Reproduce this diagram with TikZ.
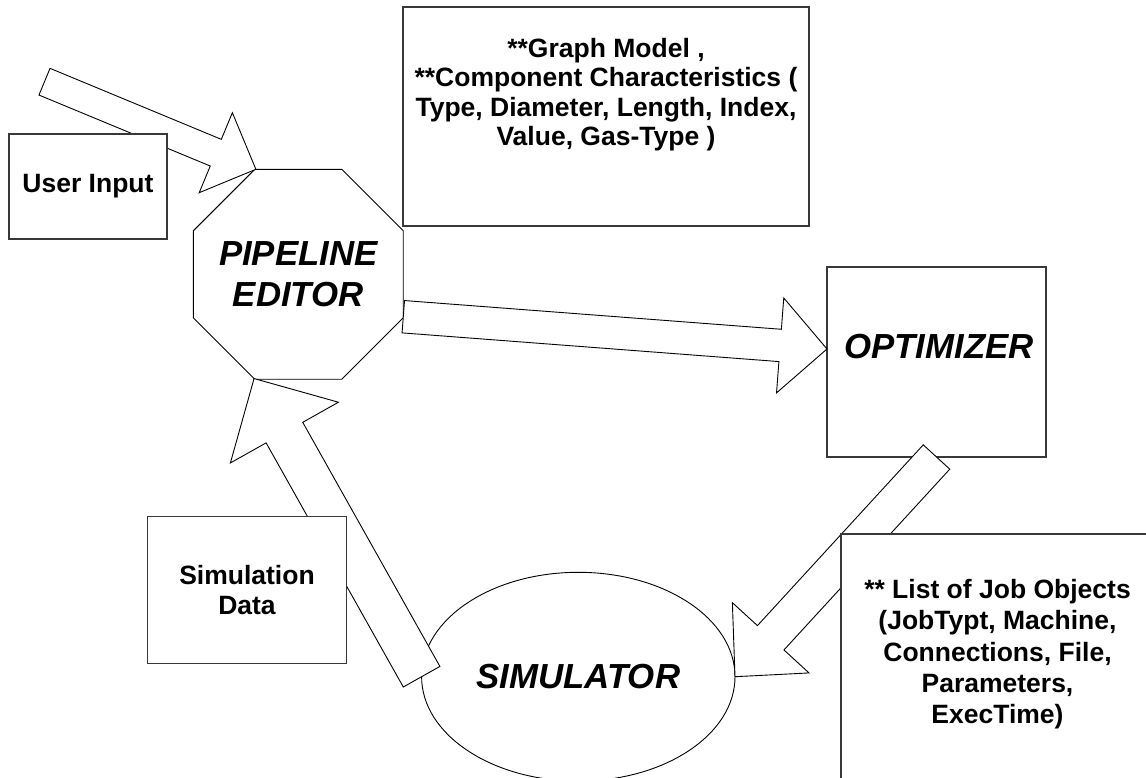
\documentclass[tikz,border=0pt]{standalone}
\usepackage{fontspec}
\setmainfont{Liberation Sans}
\usetikzlibrary{calc,shapes.geometric}

% hollow block arrow: #1 tail, #2 tip, #3 shaft half-width, #4 head half-width, #5 head length
\newcommand{\hollowarrow}[5]{%
  \path (#1) coordinate (ha-t) ($(#2)!#5!(#1)$) coordinate (ha-b);
  \draw[blockarrow]
    ($(ha-t)!#3!90:(#2)$) -- ($(ha-b)!#3!90:(#2)$) -- ($(ha-b)!#4!90:(#2)$)
    -- (#2)
    -- ($(ha-b)!#4!-90:(#2)$) -- ($(ha-b)!#3!-90:(#2)$) -- ($(ha-t)!#3!-90:(#2)$) -- cycle;
}

\tikzset{
  blockarrow/.style={draw=black, fill=white, line width=0.9pt, line join=miter},
  panel/.style={draw=black!78, fill=white, line width=1.3pt, inner sep=0pt, outer sep=0pt},
  outline/.style={draw=black, fill=white, line width=0.9pt, inner sep=0pt, outer sep=0pt},
  smalltxt/.style={font=\fontsize{26.5}{30.5}\selectfont\bfseries, align=center, inner sep=0pt},
  bigtxt/.style={font=\fontsize{34.8}{41.7}\selectfont\bfseries\itshape, align=center, inner sep=0pt},
}

\begin{document}
\begin{tikzpicture}[x=1pt, y=-1pt]
  \useasboundingbox (0,0) rectangle (1146,778);
  \clip (0,0) rectangle (1146,778);
  \fill[white] (0,0) rectangle (1146,778);

  % main components
  \node[outline, regular polygon, regular polygon sides=8, minimum size=227.3]
        (pe) at (298.3,274.3) {};
  \node[bigtxt] (petxt) at (pe.center) {PIPELINE\\EDITOR};
  \node[outline, ellipse, minimum width=313.4, minimum height=208.8,
        font=\fontsize{34.8}{41.7}\selectfont\bfseries\itshape]
        (sim) at (578.3,676.7) {SIMULATOR};
  \node[panel, minimum width=219, minimum height=190] (opt) at (936.5,362) {};
  \node[bigtxt, anchor=base] (opttxt) at (939,358) {OPTIMIZER};

  % data-flow arrows
  \coordinate (ui-src) at (44.5,81.7);
  \coordinate (opt-in) at ($(opt.west)+(0,-13)$);
  \hollowarrow{ui-src}{pe.112.5}{14.45pt}{43.3pt}{43.4pt}
  \hollowarrow{pe.-22.5}{opt-in}{16.2pt}{47.6pt}{47pt}
  \hollowarrow{opt.south}{sim.east}{18pt}{52pt}{52.8pt}
  \hollowarrow{sim.west}{pe.247.5}{21pt}{62pt}{62pt}

  % annotation boxes
  \node[panel, minimum width=158, minimum height=105, smalltxt] (ui) at (88,186.5) {User Input};
  \node[panel, minimum width=199.4, minimum height=146.6, smalltxt] (sd) at (247,590) {Simulation\\Data};
  \node[panel, minimum width=406, minimum height=219] (gm) at (606,116.5) {};
  \node[smalltxt, anchor=north, font=\fontsize{26.5}{29.3}\selectfont\bfseries] (gmtxt) at (606,38)
    {**Graph Model ,\\**Component Characteristics (\\Type, Diameter, Length, Index,\\Value, Gas-Type )};
  \node[panel, minimum width=313, minimum height=260] (jobs) at (997.5,664) {};
  \node[smalltxt, anchor=north, font=\fontsize{26.5}{31.3}\selectfont\bfseries] (jobstxt) at (997.5,579)
    {** List of Job Objects\\(JobTypt, Machine,\\Connections, File,\\Parameters,\\ExecTime)};
\end{tikzpicture}
\end{document}
